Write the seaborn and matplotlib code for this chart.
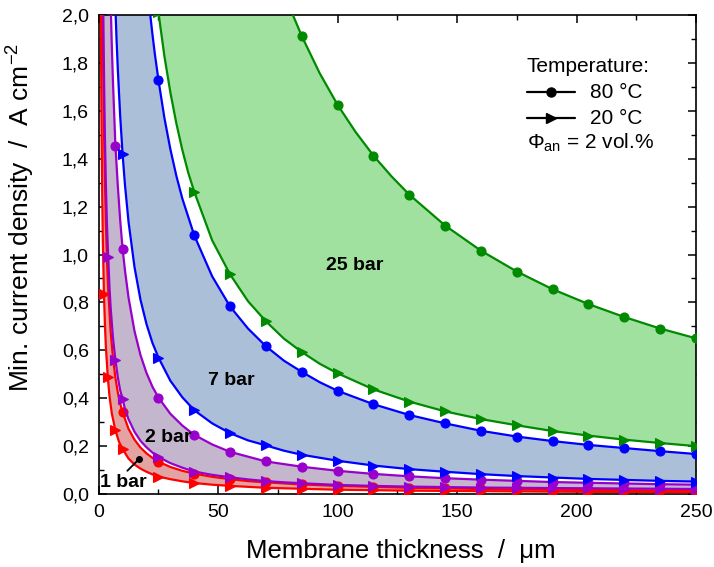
import numpy as np
import matplotlib
matplotlib.use('Agg')
import matplotlib.pyplot as plt
import seaborn as sns
from matplotlib.ticker import MultipleLocator, FuncFormatter

# ---------------- data ----------------
marker_x = [10, 25, 40, 55, 70, 85, 100, 115, 130, 145, 160, 175, 190, 205, 220, 235, 250]

# 25 bar
g80_x = [80, 85, 92.5, 100, 107.5, 115, 122.5, 130, 145, 160, 175, 190, 205, 220, 235, 250]
g80_y = [2.031, 1.912, 1.757, 1.625, 1.512, 1.413, 1.327, 1.250, 1.121, 1.016, 0.929, 0.855,
         0.793, 0.739, 0.691, 0.650]
g20_x = [25, 27.5, 30, 32.5, 35, 37.5, 40, 47.5, 55, 62.5, 70, 77.5, 85, 92.5, 100, 115, 130,
         145, 160, 175, 190, 205, 220, 235, 250]
g20_y = [2.012, 1.829, 1.677, 1.548, 1.437, 1.341, 1.262, 1.059, 0.917, 0.805, 0.721, 0.649,
         0.593, 0.544, 0.504, 0.437, 0.386, 0.345, 0.313, 0.287, 0.263, 0.244, 0.227, 0.213, 0.200]

# 7 bar
b80_x = [20.8, 21.5, 22.5, 23.5, 25, 27.5, 30, 32.5, 35, 40, 47.5, 55, 62.5, 70, 77.5, 85,
         92.5, 100, 115, 130, 145, 160, 175, 190, 205, 220, 235, 250]
b80_y = [2.077, 2.009, 1.920, 1.838, 1.730, 1.571, 1.440, 1.329, 1.234, 1.080, 0.909, 0.783,
         0.691, 0.617, 0.557, 0.510, 0.467, 0.431, 0.375, 0.330, 0.295, 0.264, 0.240, 0.221,
         0.205, 0.192, 0.179, 0.167]
b20_x = [7, 7.5, 8, 9, 10, 11, 12.5, 15, 17.5, 20, 22.5, 25, 30, 35, 40, 47.5, 55, 62.5, 70,
         77.5, 85, 100, 115, 130, 145, 160, 175, 190, 205, 220, 235, 250]
b20_y = [2.030, 1.893, 1.775, 1.578, 1.420, 1.291, 1.136, 0.947, 0.811, 0.710, 0.631, 0.570,
         0.473, 0.404, 0.350, 0.295, 0.254, 0.224, 0.203, 0.181, 0.164, 0.139, 0.119, 0.104,
         0.093, 0.083, 0.075, 0.069, 0.063, 0.059, 0.055, 0.052]

# 2 bar
p80_x = [5.1, 5.5, 6, 6.5, 7, 7.5, 8, 9, 10, 11, 12.5, 15, 17.5, 20, 22.5, 25, 30, 35, 40,
         47.5, 55, 62.5, 70, 77.5, 85, 100, 115, 130, 145, 160, 175, 190, 205, 220, 235, 250]
p80_y = [2.020, 1.873, 1.717, 1.585, 1.455, 1.373, 1.288, 1.144, 1.025, 0.934, 0.820, 0.680,
         0.580, 0.506, 0.448, 0.403, 0.335, 0.286, 0.247, 0.207, 0.176, 0.156, 0.136, 0.125,
         0.114, 0.097, 0.084, 0.074, 0.066, 0.060, 0.055, 0.050, 0.047, 0.044, 0.041, 0.039]
p20_x = [1.93, 2.1, 2.3, 2.6, 3, 3.5, 4, 4.5, 5, 6, 7, 8, 9, 10, 11, 12.5, 15, 17.5, 20, 22.5,
         25, 30, 35, 40, 47.5, 55, 62.5, 70, 77.5, 85, 100, 115, 130, 145, 160, 175, 190, 205,
         220, 235, 250]
p20_y = [2.021, 1.857, 1.696, 1.500, 1.300, 1.114, 0.990, 0.867, 0.780, 0.650, 0.560, 0.488,
         0.433, 0.398, 0.355, 0.312, 0.260, 0.222, 0.195, 0.173, 0.155, 0.129, 0.110, 0.094,
         0.080, 0.070, 0.061, 0.054, 0.049, 0.045, 0.038, 0.034, 0.031, 0.029, 0.027, 0.026,
         0.025, 0.024, 0.023, 0.022, 0.021]

# 1 bar
r80_x = [1.68, 1.8, 2, 2.25, 2.5, 3, 3.5, 4, 5, 6, 7, 8, 9, 10, 12.5, 15, 17.5, 20, 22.5, 25,
         30, 35, 40, 47.5, 55, 62.5, 70, 85, 100, 115, 130, 145, 160, 175, 190, 205, 220, 235, 250]
r80_y = [2.024, 1.889, 1.700, 1.511, 1.360, 1.133, 0.971, 0.850, 0.680, 0.567, 0.486, 0.425,
         0.378, 0.342, 0.272, 0.227, 0.194, 0.170, 0.151, 0.135, 0.113, 0.097, 0.085, 0.072,
         0.062, 0.054, 0.049, 0.040, 0.034, 0.030, 0.026, 0.024, 0.021, 0.019, 0.018, 0.017,
         0.016, 0.015, 0.014]
r20_x = [0.92, 1, 1.1, 1.25, 1.5, 1.75, 2.2, 2.6, 3, 3.8, 4.5, 5.5, 7, 8.5, 10, 12.5, 15, 17.5,
         20, 22.5, 25, 30, 35, 40, 47.5, 55, 62.5, 70, 85, 100, 115, 130, 145, 160, 175, 190,
         205, 220, 235, 250]
r20_y = [2.011, 1.850, 1.682, 1.480, 1.233, 1.057, 0.835, 0.712, 0.617, 0.490, 0.411, 0.336,
         0.266, 0.218, 0.188, 0.148, 0.123, 0.106, 0.093, 0.082, 0.073, 0.062, 0.053, 0.046,
         0.039, 0.034, 0.030, 0.026, 0.022, 0.018, 0.016, 0.014, 0.013, 0.012, 0.011, 0.010,
         0.009, 0.009, 0.008, 0.007]

extra_markers = {
    'p80': [7],
    'p20': [4, 7],
    'r20': [2.2, 3.8, 7],
}

bar_labels = ['25 bar', '7 bar', '2 bar', '1 bar']
bar_label_xy = [(107.3, 0.956), (55.4, 0.476), (29.2, 0.234), (10.4, 0.047)]
x_ticks = [0, 50, 100, 150, 200, 250]
y_ticks = [0.0, 0.2, 0.4, 0.6, 0.8, 1.0, 1.2, 1.4, 1.6, 1.8, 2.0]

# ---------------- style ----------------
sns.set_theme(style='ticks')
plt.rcParams['font.family'] = ['Liberation Sans', 'DejaVu Sans']
plt.rcParams['mathtext.fontset'] = 'custom'
plt.rcParams['mathtext.rm'] = 'Liberation Sans'
plt.rcParams['mathtext.it'] = 'Liberation Sans:italic'
plt.rcParams['mathtext.bf'] = 'Liberation Sans:bold'
plt.rcParams['axes.edgecolor'] = 'black'
plt.rcParams['text.color'] = 'black'
plt.rcParams['axes.labelcolor'] = 'black'

fig = plt.figure(figsize=(7.14, 5.67), dpi=100)
ax = fig.add_axes([0.1382, 0.1287, 0.8366, 0.8448])

series = [
    ('g', g80_x, g80_y, g20_x, g20_y, '#008a00', '#a0e1a0'),
    ('b', b80_x, b80_y, b20_x, b20_y, '#0000ff', '#abbfd9'),
    ('p', p80_x, p80_y, p20_x, p20_y, '#9900cc', '#c4b6cc'),
    ('r', r80_x, r80_y, r20_x, r20_y, '#ff0000', '#e3a3a3'),
]

# bands between the 20 °C and 80 °C curves
for key, x80, y80, x20, y20, lc, fc in series:
    px = np.concatenate([np.asarray(x20, float), np.asarray(x80, float)[::-1]])
    py = np.concatenate([np.asarray(y20, float), np.asarray(y80, float)[::-1]])
    ax.fill(px, py, color=fc, lw=0, zorder=1)

def mark_idx(xs, extra):
    ms = set(marker_x) | set(extra)
    return [i for i, v in enumerate(xs) if v in ms]

# lines (red first, green last on top)
for key, x80, y80, x20, y20, lc, fc in series[::-1]:
    for temp, xs, ys, mk, msz in (('80', x80, y80, 'o', 6.5), ('20', x20, y20, '>', 7.0)):
        idx = mark_idx(xs, extra_markers.get(key + temp, []))
        sns.lineplot(x=xs, y=ys, ax=ax, color=lc, lw=1.6, marker=mk, markersize=msz,
                     markevery=idx, markeredgecolor=lc, markeredgewidth=0.8,
                     markerfacecolor=lc, sort=False, estimator=None, zorder=3)

# bar labels
for lab, (lx, ly) in zip(bar_labels, bar_label_xy):
    ax.text(lx, ly, lab, fontsize=14, fontweight='bold', ha='center', va='center', zorder=5)
ax.plot([12.0, 16.9], [0.097, 0.146], color='black', lw=1.3, zorder=5)
ax.plot([16.9], [0.146], 'o', color='black', ms=4, zorder=5)

# legend block
t = ax.transAxes
fs_leg = 15
ax.text(0.717, 0.892, 'Temperature:', transform=t, fontsize=fs_leg, ha='left', va='center')
ax.plot([0.717, 0.797], [0.839, 0.839], color='black', lw=1.6, transform=t, clip_on=False)
ax.plot([0.757], [0.839], marker='o', color='black', ms=6.5, transform=t, clip_on=False)
ax.text(0.822, 0.839, '80 °C', transform=t, fontsize=fs_leg, ha='left', va='center')
ax.plot([0.717, 0.797], [0.784, 0.784], color='black', lw=1.6, transform=t, clip_on=False)
ax.plot([0.757], [0.784], marker='>', color='black', ms=7, transform=t, clip_on=False)
ax.text(0.822, 0.784, '20 °C', transform=t, fontsize=fs_leg, ha='left', va='center')
ax.text(0.717, 0.733, r'$\Phi_{\mathrm{an}}$ = 2 vol.%', transform=t, fontsize=fs_leg,
        ha='left', va='center')

# axes
ax.set_xlim(0, 250)
ax.set_ylim(0, 2.0)
ax.set_xticks(x_ticks)
ax.set_yticks(y_ticks)
ax.xaxis.set_minor_locator(MultipleLocator(25))
ax.yaxis.set_minor_locator(MultipleLocator(0.1))
ax.yaxis.set_major_formatter(FuncFormatter(lambda v, p: f'{v:.1f}'.replace('.', ',')))
ax.tick_params(which='both', direction='in', top=True, right=True, colors='black',
               labelsize=14)
ax.tick_params(which='major', length=6, width=1.1)
ax.tick_params(which='minor', length=3.5, width=1.0)
ax.tick_params(axis='x', pad=7)
ax.tick_params(axis='y', pad=7)
for s in ax.spines.values():
    s.set_linewidth(1.2)
    s.set_color('black')
ax.set_xlabel('Membrane thickness  /  μm', fontsize=18.5)
ax.set_ylabel('Min. current density  /  A cm$^{-2}$', fontsize=19)
ax.xaxis.set_label_coords(0.506, -0.094)
ax.yaxis.set_label_coords(-0.103, 0.578)

fig.savefig('out.png', dpi=100)
